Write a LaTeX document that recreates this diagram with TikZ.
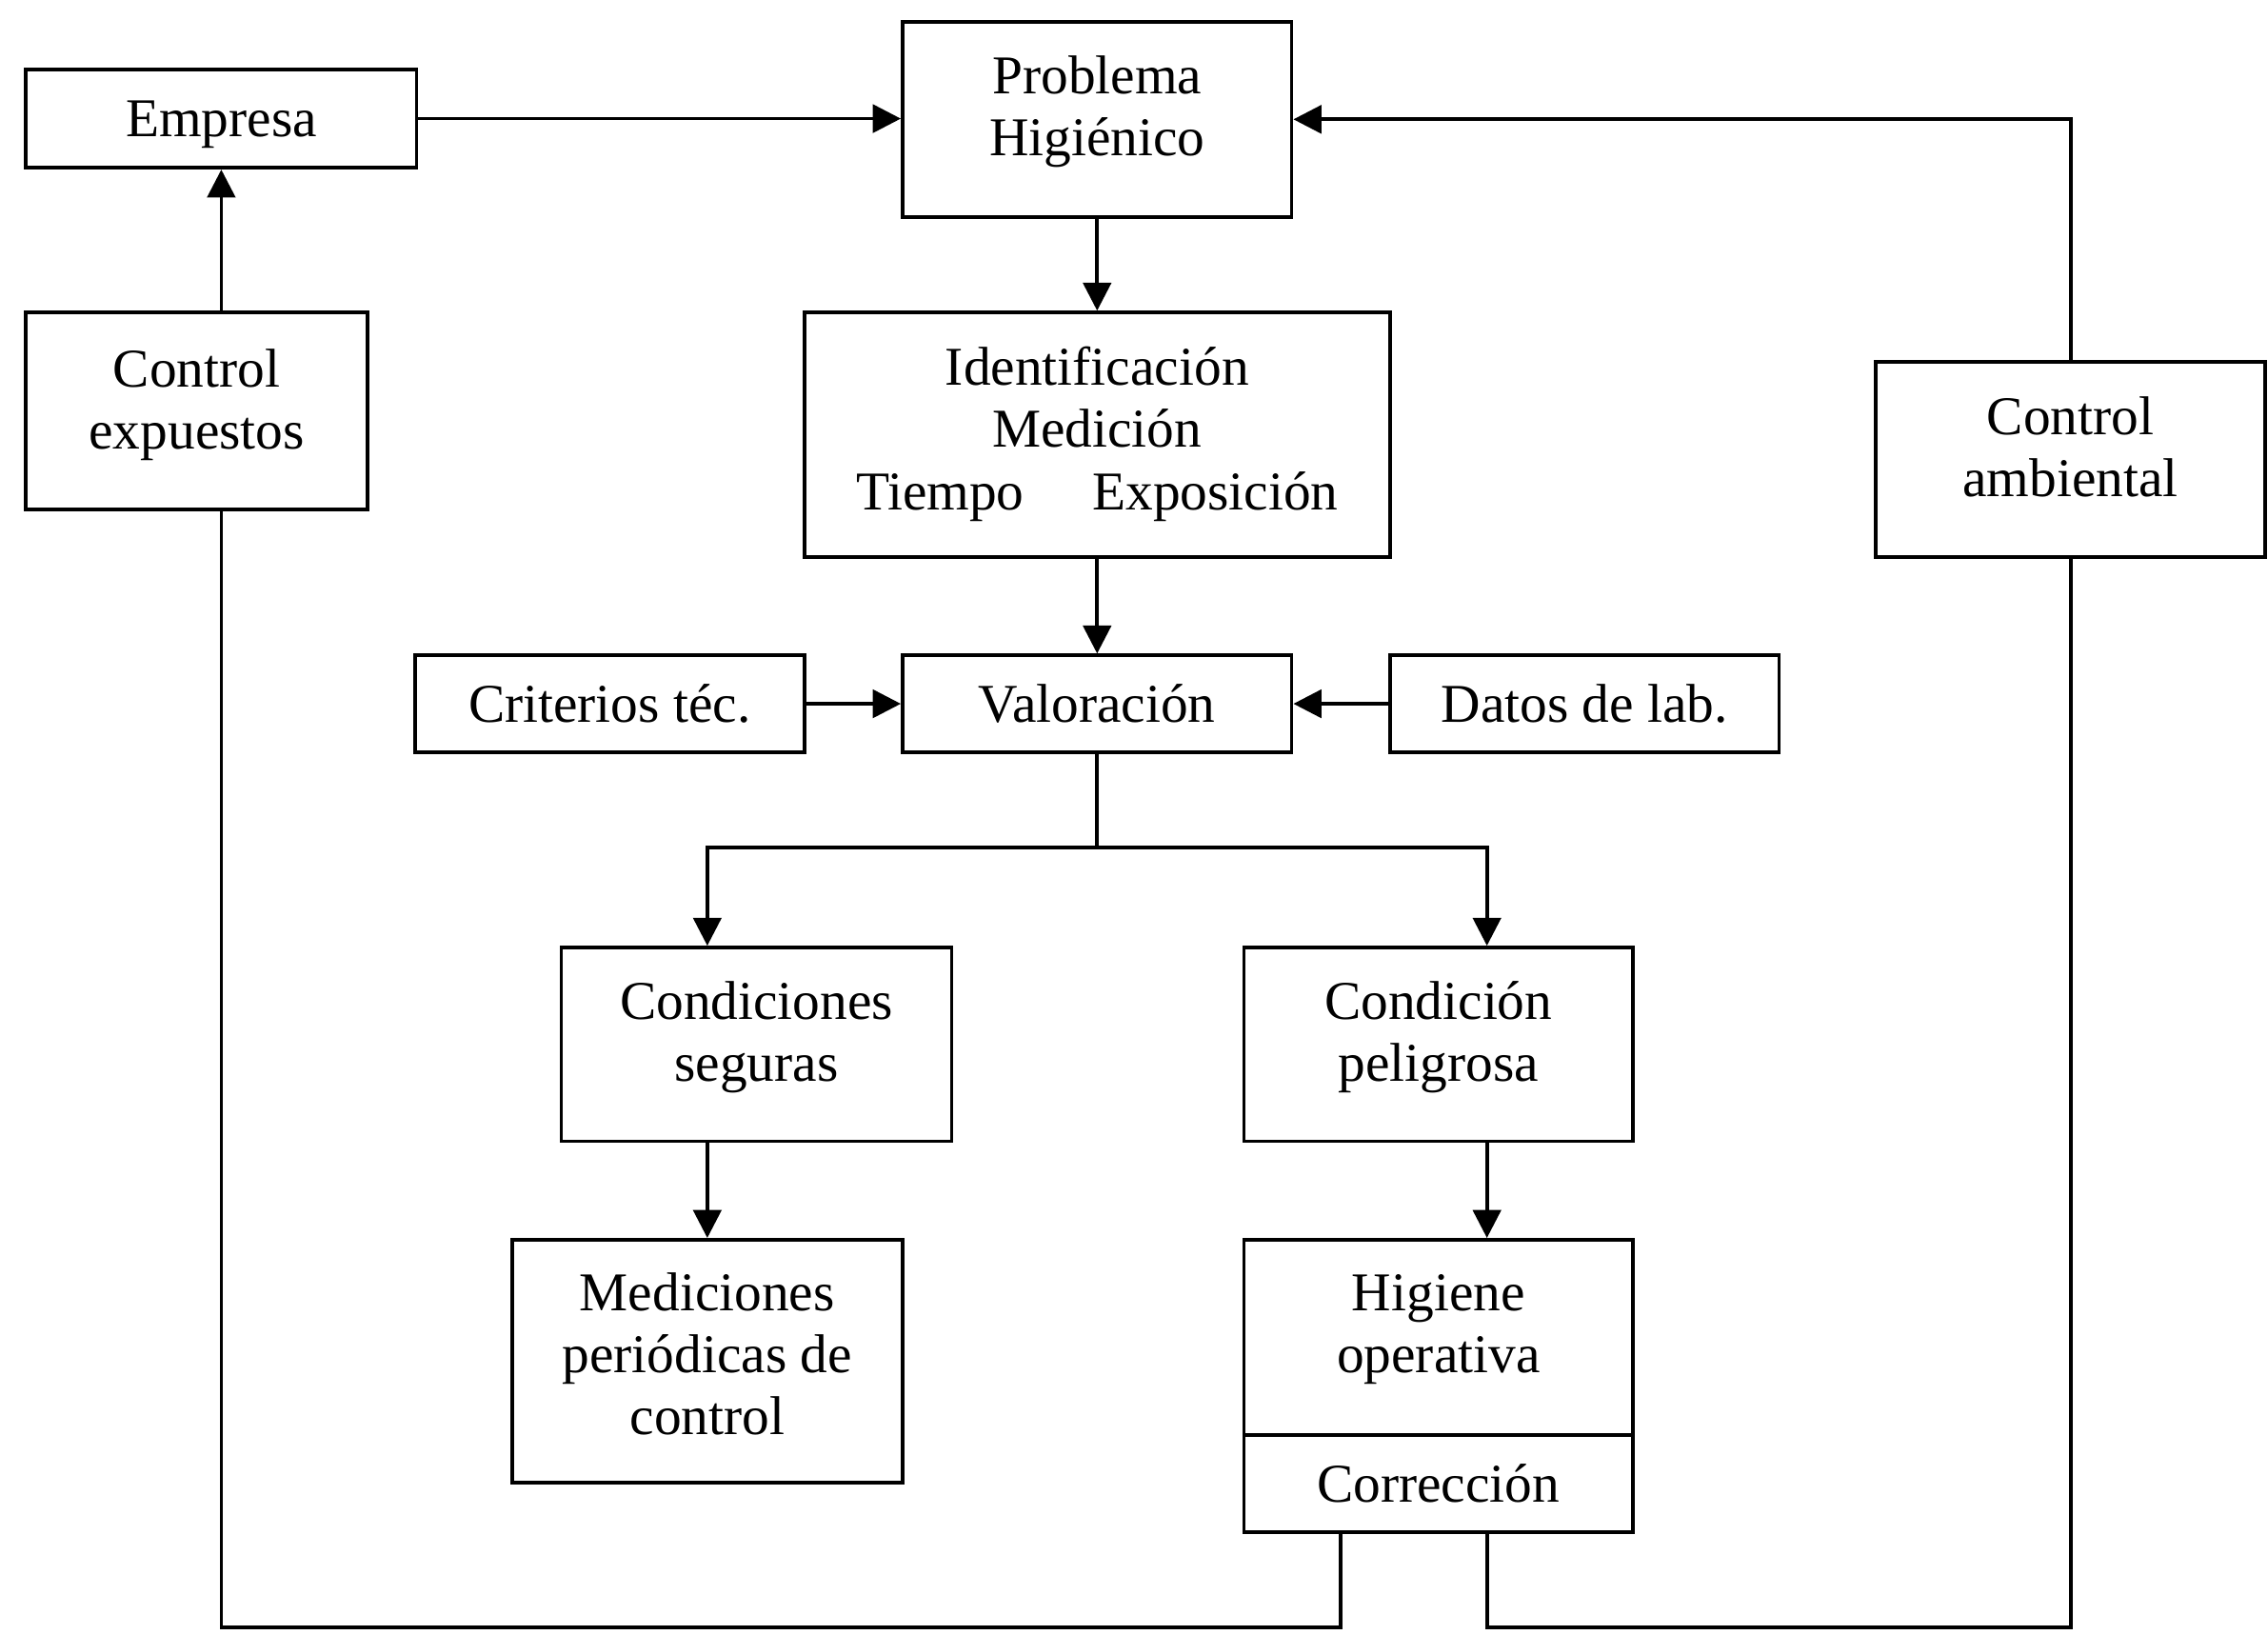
\documentclass[tikz,border=0pt]{standalone}
\usepackage{fontspec}
\setmainfont{Liberation Serif}
\usepackage{tikz}
\usetikzlibrary{arrows.meta}

\begin{document}
\begin{tikzpicture}[x=0.2mm,y=-0.2mm,
	font=\fontsize{21.5}{24.4}\selectfont,
	caja/.style={draw, line width=1.4pt, inner sep=0pt, align=center},
	linea/.style={line width=1.4pt},
	flecha/.style={line width=1.4pt, -{Triangle[length=11pt,width=11pt]}}]
\useasboundingbox (0,0) rectangle (1568,1130);
\node[caja, minimum width=54mm, minimum height=13.6mm] (emp) at (153,82) {\rule{0pt}{18.7pt}Empresa};
\node[caja, minimum width=53.8mm, minimum height=27mm] (prob) at (758.5,82.5) {Problema\\Higiénico\rule[-10.8pt]{0pt}{10.8pt}};
\node[caja, minimum width=47.2mm, minimum height=27.2mm] (cexp) at (136,284) {Control\\expuestos\rule[-9pt]{0pt}{9pt}};
\node[caja, minimum width=81mm, minimum height=33.8mm] (ident) at (758.5,300.5) {Identificación\\Medición\\Tiempo\hspace{1em} Exposición\rule[-5.1pt]{0pt}{5.1pt}};
\node[caja, minimum width=53.8mm, minimum height=27mm] (camb) at (1431.5,317.5) {Control\\ambiental\rule[-10.2pt]{0pt}{10.2pt}};
\node[caja, minimum width=53.8mm, minimum height=13.4mm] (crit) at (421.5,486.5) {Criterios téc.};
\node[caja, minimum width=53.8mm, minimum height=13.4mm] (val) at (758.5,486.5) {Valoración};
\node[caja, minimum width=53.8mm, minimum height=13.4mm] (datos) at (1095.5,486.5) {Datos de lab.};
\node[caja, minimum width=54mm, minimum height=26.8mm] (cseg) at (523,722) {Condiciones\\seguras\rule[-10.2pt]{0pt}{10.2pt}};
\node[caja, minimum width=53.8mm, minimum height=26.8mm] (cpel) at (994.5,722) {Condición\\peligrosa\rule[-10.2pt]{0pt}{10.2pt}};
\node[caja, minimum width=54mm, minimum height=33.6mm] (medi) at (489,941) {Mediciones\\periódicas de\\control\rule[-5.7pt]{0pt}{5.7pt}};
\node[caja, minimum width=53.8mm, minimum height=27mm] (hig) at (994.5,924.5) {Higiene\\operativa\rule[-10.8pt]{0pt}{10.8pt}};
\node[caja, minimum width=53.8mm, minimum height=13.4mm] (corr) at (994.5,1025.5) {Corrección};
\coordinate (ramaI) at (489,586);
\coordinate (ramaD) at (1028,586);
\coordinate (bajoI) at (927,1125);
\coordinate (bajoD) at (1028,1125);
\draw[flecha] (emp.east) -- (emp.east -| prob.west);
\draw[flecha] (camb.north) |- (prob.east);
\draw[flecha] (emp.south |- cexp.north) -- (emp.south);
\draw[flecha] (prob.south) -- (ident.north);
\draw[flecha] (ident.south) -- (val.north);
\draw[flecha] (crit.east) -- (val.west);
\draw[flecha] (datos.west) -- (val.east);
\draw[linea] (val.south) -- (val.south |- ramaI);
\draw[flecha] (val.south |- ramaI) -- (ramaI) -- (ramaI |- cseg.north);
\draw[flecha] (val.south |- ramaD) -- (ramaD) -- (ramaD |- cpel.north);
\draw[flecha] (ramaI |- cseg.south) -- (medi.north);
\draw[flecha] (ramaD |- cpel.south) -- (ramaD |- hig.north);
\draw[linea] (bajoI |- corr.south) -- (bajoI) -| (emp.south |- cexp.south);
\draw[linea] (bajoD |- corr.south) -- (bajoD) -| (camb.south);
\end{tikzpicture}
\end{document}
